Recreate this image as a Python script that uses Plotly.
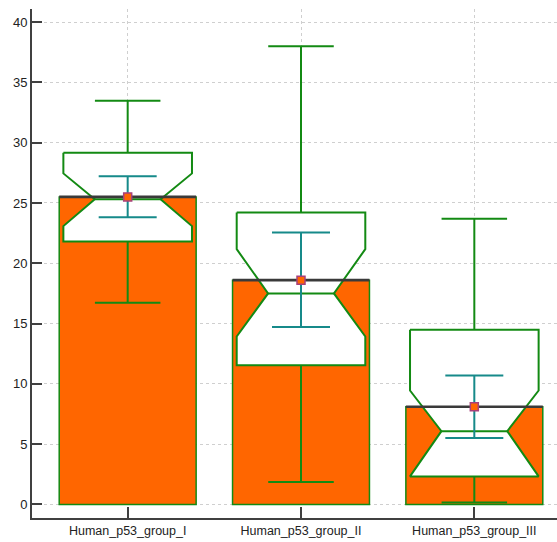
import plotly.graph_objects as go

# Group labels and summary statistics
groups = ["Human_p53_group_I", "Human_p53_group_II", "Human_p53_group_III"]
means = [25.5, 18.6, 8.1]
q1 = [21.8, 11.55, 2.33]
median = [25.3, 17.5, 6.08]
q3 = [29.17, 24.2, 14.48]
notch_lo = [23.08, 13.93, 2.33]
notch_hi = [27.45, 21.17, 9.45]
whisk_lo = [16.72, 1.86, 0.17]
whisk_hi = [33.48, 38.0, 23.7]
ci_lo = [23.82, 14.72, 5.52]
ci_hi = [27.22, 22.54, 10.7]
y_ticks = [0, 5, 10, 15, 20, 25, 30, 35, 40]

# Styling
ORANGE = "#FF6600"
GREEN = "#138a13"
TEAL = "#168a8a"
DARK = "#3a3a3a"
AXIS = "#404040"
GRID = "#cfcfcf"
FONT = "Liberation Sans, Arial, sans-serif"

BAR_W = 0.79
BOX_HALF = 0.371
NOTCH_HALF = 0.19
CAP_HALF = 0.189

xpos = list(range(len(groups)))

fig = go.Figure()

# Mean bars
fig.add_trace(go.Bar(
    x=xpos, y=means, width=BAR_W,
    marker=dict(color=ORANGE, line=dict(color=GREEN, width=1.5)),
    hoverinfo="skip", showlegend=False,
))

# Notched boxes (white fill, green outline)
for i, x in enumerate(xpos):
    L, R = x - BOX_HALF, x + BOX_HALF
    Li, Ri = x - NOTCH_HALF, x + NOTCH_HALF
    px = [L, L, Li, L, L, R, R, Ri, R, R, L]
    py = [q3[i], notch_hi[i], median[i], notch_lo[i], q1[i],
          q1[i], notch_lo[i], median[i], notch_hi[i], q3[i], q3[i]]
    fig.add_trace(go.Scatter(
        x=px, y=py, mode="lines", fill="toself", fillcolor="white",
        line=dict(color=GREEN, width=2), hoverinfo="skip", showlegend=False,
    ))

# Whiskers with caps and median lines
wx, wy = [], []
for i, x in enumerate(xpos):
    wx += [x, x, None, x - CAP_HALF, x + CAP_HALF, None]
    wy += [q3[i], whisk_hi[i], None, whisk_hi[i], whisk_hi[i], None]
    wx += [x, x, None, x - CAP_HALF, x + CAP_HALF, None]
    wy += [q1[i], whisk_lo[i], None, whisk_lo[i], whisk_lo[i], None]
    wx += [x - NOTCH_HALF, x + NOTCH_HALF, None]
    wy += [median[i], median[i], None]
fig.add_trace(go.Scatter(
    x=wx, y=wy, mode="lines", line=dict(color=GREEN, width=2),
    hoverinfo="skip", showlegend=False,
))

# Mean lines across the bar tops
mx, my = [], []
for i, x in enumerate(xpos):
    mx += [x - BAR_W / 2, x + BAR_W / 2, None]
    my += [means[i], means[i], None]
fig.add_trace(go.Scatter(
    x=mx, y=my, mode="lines", line=dict(color=DARK, width=2.6),
    hoverinfo="skip", showlegend=False,
))

# Confidence interval of the mean with mean marker
fig.add_trace(go.Scatter(
    x=xpos, y=means, mode="markers",
    marker=dict(symbol="square", size=8, color=ORANGE,
                line=dict(color="#a8407a", width=1.5)),
    error_y=dict(type="data", symmetric=False,
                 array=[h - m for h, m in zip(ci_hi, means)],
                 arrayminus=[m - l for m, l in zip(means, ci_lo)],
                 color=TEAL, thickness=2, width=29),
    hoverinfo="skip", showlegend=False,
))

fig.update_layout(
    width=557, height=542,
    margin=dict(l=32, r=0, t=9, b=24),
    paper_bgcolor="white", plot_bgcolor="white",
    font=dict(family=FONT, size=12.5, color="#222222"),
    showlegend=False,
    xaxis=dict(
        range=[-0.552, 2.477], tickvals=xpos, ticktext=groups,
        showline=True, linecolor=AXIS, linewidth=2,
        ticks="inside", ticklen=11, tickwidth=2, tickcolor=AXIS,
        showgrid=True, gridcolor=GRID, griddash="dot", gridwidth=1,
        zeroline=False, tickfont=dict(size=12.5),
    ),
    yaxis=dict(
        range=[-1.12, 41.08], tickvals=y_ticks,
        showline=True, linecolor=AXIS, linewidth=2,
        ticks="inside", ticklen=10, tickwidth=2, tickcolor=AXIS,
        showgrid=True, gridcolor=GRID, griddash="dot", gridwidth=1,
        zeroline=False, tickfont=dict(size=13),
    ),
)

fig.write_html("out.html")
